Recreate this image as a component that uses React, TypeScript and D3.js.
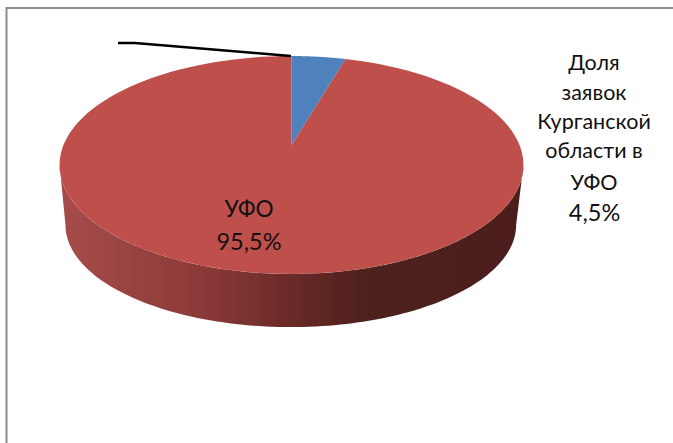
import React from "react";
import * as d3 from "d3";

const W = 673;
const H = 443;
const categories = ["Доля заявок Курганской области в УФО", "УФО"];
const values = [4.5, 95.5];
const colors = ["#4F81BD", "#BE4F4C"];
const valueLabels = ["4,5%", "95,5%"];
const calloutLines = ["Доля", "заявок", "Курганской", "области в", "УФО"];
const calloutBaselines = [70, 100, 129, 158, 190];

// perspective projection of the pie disc
const K = 0.1835;
const project = (theta: number, cx: number, a: number, b: number, cy: number): [number, number] => {
  const u = Math.sin(theta);
  const v = Math.cos(theta);
  const d = 1 + K * v;
  return [cx + (a * u) / d, cy - (b * v) / d];
};
const top = (t: number) => project(t, 291.5, 228, 105.3, 145);
const bottom = (t: number) => project(t, 290.8, 221.5, 98.6, 206.3);

const steps = (a0: number, a1: number, n = 120) =>
  d3.range(n + 1).map((i) => a0 + ((a1 - a0) * i) / n);

const line = d3.line<[number, number]>();
const TAU = Math.PI * 2;

export default function App() {
  const arcs = d3.pie<number>().sort(null).value((d) => d)(values);
  const wedge = (a0: number, a1: number) =>
    line([[291.5, 145], ...steps(a0, a1).map(top)]) + "Z";
  const tiltAngle = Math.acos(-K);
  const sidePts: [number, number][] = [
    ...steps(tiltAngle, TAU - tiltAngle).map(bottom),
    ...steps(TAU - tiltAngle, tiltAngle).map(top),
  ];
  const textStyle = { fontFamily: "Lato, Carlito, sans-serif", fontSize: 21.5, fill: "#111" };
  return (
    <svg
      width={W}
      height={H}
      viewBox={`0 0 ${W} ${H}`}
      style={{ position: "absolute", left: 0, top: 0, background: "#fff" }}
    >
      <defs>
        <linearGradient id="side" gradientUnits="userSpaceOnUse" x1={60} x2={523} y1={0} y2={0}>
          <stop offset="0" stopColor="#A64D4B" />
          <stop offset="0.3" stopColor="#8C3A38" />
          <stop offset="0.5" stopColor="#6A2A28" />
          <stop offset="0.66" stopColor="#4E201E" />
          <stop offset="1" stopColor="#4D1F1E" />
        </linearGradient>
        <filter id="soft" x="-5%" y="-5%" width="110%" height="110%">
          <feGaussianBlur stdDeviation="0.35" />
        </filter>
      </defs>
      <g filter="url(#soft)">
        <path d={`M6.5 ${H}V8H${W}`} fill="none" stroke="#8C8C8C" strokeWidth={2} />
        <path d={(line(sidePts) ?? "") + "Z"} fill="url(#side)" />
        {arcs.map((a, i) => (
          <path key={categories[i]} d={wedge(a.startAngle, a.endAngle)} fill={colors[i]} />
        ))}
        <path d="M118 43L135 43L291 56" fill="none" stroke="#000" strokeWidth={2.4} />
      </g>
      <g textAnchor="middle" style={textStyle}>
        {calloutLines.map((t, i) => (
          <text key={i} x={594} y={calloutBaselines[i]}>{t}</text>
        ))}
        <text x={594.5} y={221} style={{ fontSize: 23.5 }}>{valueLabels[0]}</text>
        <text x={249} y={216.5} style={{ fontSize: 22.5 }}>{calloutLines[4]}</text>
        <text x={249} y={250} style={{ fontSize: 23.5 }}>{valueLabels[1]}</text>
      </g>
    </svg>
  );
}
